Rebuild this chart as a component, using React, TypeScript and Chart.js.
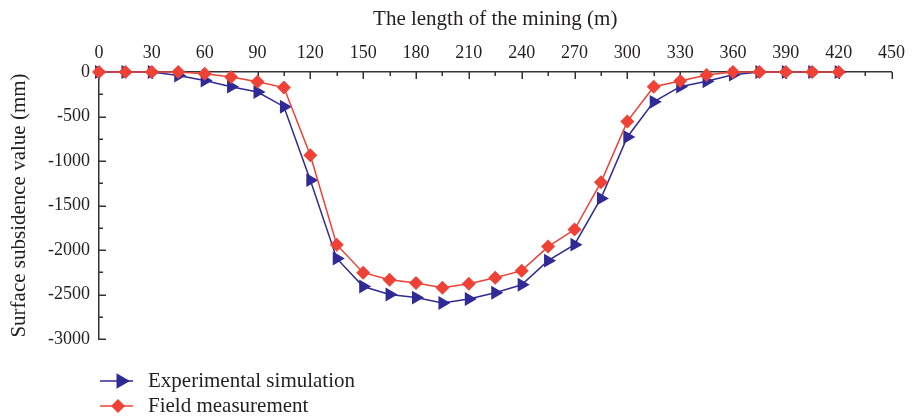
import React, { useEffect, useRef } from 'react';
import { Chart, registerables } from 'chart.js';

Chart.register(...registerables);

const distances = [0, 15, 30, 45, 60, 75, 90, 105, 120, 135, 150, 165, 180, 195, 210, 225, 240, 255, 270, 285, 300, 315, 330, 345, 360, 375, 390, 405, 420];
const experimental = [0, 0, 0, -40, -95, -165, -225, -390, -1215, -2095, -2410, -2500, -2535, -2595, -2550, -2480, -2390, -2120, -1940, -1420, -730, -335, -165, -105, -30, 0, 0, 0, 0];
const field = [0, 0, 0, 0, -20, -55, -110, -175, -935, -1940, -2255, -2335, -2370, -2425, -2380, -2312, -2232, -1962, -1770, -1240, -555, -165, -100, -35, 0, 0, 0, 0, 0];

const seriesNames = ['Experimental simulation', 'Field measurement'];
const xTitle = 'The length of the mining (m)';
const yTitle = 'Surface subsidence value (mm)';

const BLUE = '#2f2a95';
const RED = '#ef4136';
const TEXT = '#231f20';
const AXIS = '#333333';
const FAMILY = "'Liberation Serif', 'DejaVu Serif', serif";
const TICK_FONT = { family: FAMILY, size: 18 };
const TEXT_FONT = { family: FAMILY, size: 21 };

const tickPlugin = {
  id: 'innerTicks',
  beforeDatasetsDraw(chart: any) {
    const ctx = chart.ctx;
    const x = chart.scales.x;
    const y = chart.scales.y;
    const area = chart.chartArea;
    ctx.save();
    ctx.strokeStyle = AXIS;
    ctx.lineWidth = 1.5;
    ctx.beginPath();
    for (let v = 0; v <= 450; v += 15) {
      const px = Math.round(x.getPixelForValue(v)) + 0.25;
      const len = v % 30 === 0 ? 7 : 4;
      ctx.moveTo(px, area.top);
      ctx.lineTo(px, area.top + len);
    }
    for (let v = 0; v >= -3000; v -= 250) {
      const py = Math.round(y.getPixelForValue(v)) + 0.25;
      const len = v % 500 === 0 ? 7 : 4;
      ctx.moveTo(area.left, py);
      ctx.lineTo(area.left + len, py);
    }
    ctx.stroke();
    ctx.restore();
  },
};

const legendPlugin = {
  id: 'stackedLegend',
  afterDraw(chart: any) {
    const ctx = chart.ctx;
    const rows = [381, 406];
    ctx.save();
    chart.data.datasets.forEach((ds: any, i: number) => {
      const yy = rows[i];
      ctx.strokeStyle = ds.borderColor;
      ctx.lineWidth = 1.5;
      ctx.beginPath();
      ctx.moveTo(100, yy);
      ctx.lineTo(133, yy);
      ctx.stroke();
      ctx.fillStyle = ds.backgroundColor;
      ctx.beginPath();
      if (i === 0) {
        const cx = 121, r = 9;
        ctx.moveTo(cx + r, yy);
        ctx.lineTo(cx - r / 2, yy - r * 0.866);
        ctx.lineTo(cx - r / 2, yy + r * 0.866);
      } else {
        const cx = 118, r = 7;
        ctx.moveTo(cx, yy - r);
        ctx.lineTo(cx + r, yy);
        ctx.lineTo(cx, yy + r);
        ctx.lineTo(cx - r, yy);
      }
      ctx.closePath();
      ctx.fill();
      ctx.fillStyle = TEXT;
      ctx.font = `${TEXT_FONT.size}px ${TEXT_FONT.family}`;
      ctx.textBaseline = 'middle';
      ctx.textAlign = 'left';
      ctx.fillText(ds.label, 148, yy);
    });
    ctx.restore();
  },
};

export default function App() {
  const ref = useRef<HTMLCanvasElement | null>(null);

  useEffect(() => {
    if (!ref.current) return;
    const chart = new Chart(ref.current, {
      type: 'line',
      data: {
        datasets: [
          {
            label: seriesNames[0],
            data: distances.map((d, i) => ({ x: d, y: experimental[i] })),
            borderColor: BLUE,
            backgroundColor: BLUE,
            borderWidth: 1.5,
            pointStyle: 'triangle',
            rotation: 90,
            pointRadius: 8,
            pointBorderWidth: 0,
            clip: false,
            order: 2,
          },
          {
            label: seriesNames[1],
            data: distances.map((d, i) => ({ x: d, y: field[i] })),
            borderColor: RED,
            backgroundColor: RED,
            borderWidth: 1.5,
            pointStyle: 'rectRot',
            pointRadius: 7,
            pointBorderWidth: 0,
            clip: false,
            order: 1,
          },
        ],
      },
      options: {
        responsive: false,
        animation: false,
        layout: { padding: { left: 0, right: 21, top: 0, bottom: 81 } },
        plugins: { legend: { display: false }, tooltip: { enabled: false } },
        scales: {
          x: {
            type: 'linear',
            position: 'top',
            min: 0,
            max: 450,
            ticks: { stepSize: 30, font: TICK_FONT, color: TEXT, padding: 8, maxRotation: 0, callback: (v: any) => String(v) },
            grid: { display: false, drawTicks: false },
            border: { display: true, color: AXIS, width: 1.5 },
            title: { display: true, text: xTitle, font: TEXT_FONT, color: TEXT, padding: { top: 7, bottom: 0 } },
            afterFit: (s: any) => { s.height = 72; },
          },
          y: {
            type: 'linear',
            min: -3000,
            max: 0,
            ticks: { stepSize: 500, font: TICK_FONT, color: TEXT, padding: 9, callback: (v: any) => String(v) },
            grid: { display: false, drawTicks: false },
            border: { display: true, color: AXIS, width: 1.5 },
            title: { display: true, text: yTitle, font: TEXT_FONT, color: TEXT, padding: { top: 7, bottom: 0 } },
            afterFit: (s: any) => { s.width = 99; },
          },
        },
      },
      plugins: [tickPlugin, legendPlugin],
    });
    return () => chart.destroy();
  }, []);

  return (
    <div style={{ position: 'fixed', left: 0, top: 0, width: 913, height: 420, background: '#fff' }}>
      <canvas ref={ref} width={913} height={420} style={{ width: 913, height: 420, display: 'block' }} />
    </div>
  );
}
